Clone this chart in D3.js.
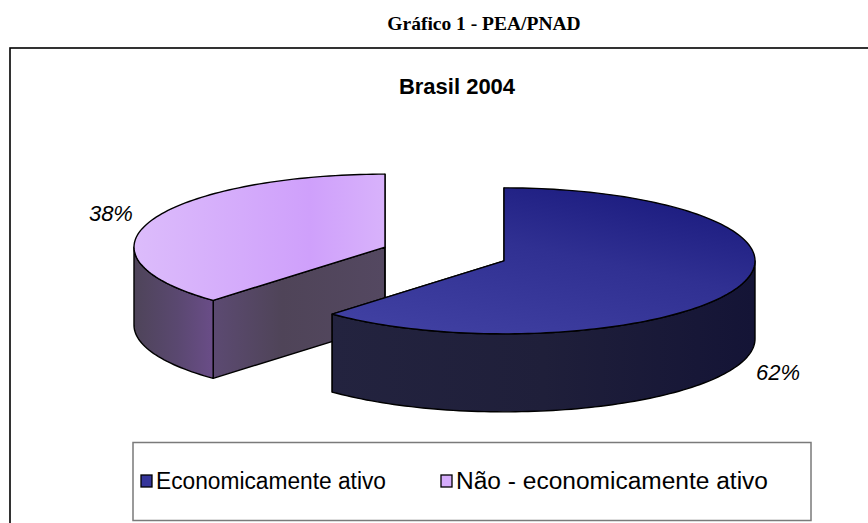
<!DOCTYPE html>
<html>
<head>
<meta charset="utf-8">
<script src="https://cdn.jsdelivr.net/npm/d3@7"></script>
<style>
  body { margin: 0; background: #fff; }
</style>
</head>
<body>
<script>
const w = 868;
const h = 523;

// data
const categories = ["Economicamente ativo", "Não - economicamente ativo"];
const values = [62, 38];
const pctLabels = ["62%", "38%"];

// looks
const topFill = ["url(#blueTop)", "url(#lilacTop)"];
const wallFill = ["url(#blueSide)", "url(#lilacWall)"];
const cutFill = ["#1f1f3a", "url(#lilacCut)"];
const legendFill = ["#35359a", "#d5acfb"];

const svg = d3
  .select("body")
  .append("svg")
  .attr("width", w)
  .attr("height", h)
  .style("font-family", "'Liberation Sans', Arial, sans-serif");

// gradients for the 3d look
const defs = svg.append("defs");
function gradient(id, x1, y1, x2, y2, stops) {
  const g = defs
    .append("linearGradient")
    .attr("id", id)
    .attr("x1", x1)
    .attr("y1", y1)
    .attr("x2", x2)
    .attr("y2", y2);
  stops.forEach(function (s) {
    g.append("stop").attr("offset", s[0]).attr("stop-color", s[1]);
  });
}
gradient("blueTop", "80%", "0%", "20%", "100%", [["0%", "#1a1a7e"], ["45%", "#303092"], ["100%", "#4040a2"]]);
gradient("blueSide", "0%", "0%", "100%", "0%", [["0%", "#23233f"], ["50%", "#1f1f3a"], ["100%", "#141436"]]);
gradient("lilacTop", "0%", "0%", "100%", "0%", [["0%", "#dcbcfb"], ["70%", "#cfa0fb"], ["100%", "#d8b2fb"]]);
gradient("lilacWall", "0%", "0%", "100%", "0%", [["0%", "#4e4459"], ["55%", "#5a4870"], ["100%", "#6a4d88"]]);
gradient("lilacCut", "0%", "0%", "100%", "0%", [["0%", "#5c4a72"], ["40%", "#4f4458"], ["100%", "#544861"]]);

// page title
svg
  .append("text")
  .attr("x", 484)
  .attr("y", 30)
  .attr("text-anchor", "middle")
  .style("font-family", "'Liberation Serif', 'Times New Roman', serif")
  .style("font-weight", "bold")
  .style("font-size", "19.5px")
  .text("Gráfico 1 - PEA/PNAD");

// chart frame (runs off the right and bottom of the page)
svg
  .append("rect")
  .attr("x", 10)
  .attr("y", 48)
  .attr("width", 900)
  .attr("height", 520)
  .attr("fill", "none")
  .attr("stroke", "#000")
  .attr("stroke-width", 1.6);

svg
  .append("text")
  .attr("x", 457)
  .attr("y", 94)
  .attr("text-anchor", "middle")
  .style("font-weight", "bold")
  .style("font-size", "22px")
  .text("Brasil 2004");

// 3d pie
const cx = 444.5,
  cy = 254,
  rx = 251,
  ry = 73,
  depth = 78,
  explode = 0.255;

const xs = d3.scaleLinear().domain([-1, 1]).range([cx - rx, cx + rx]);
const ys = d3.scaleLinear().domain([-1, 1]).range([cy - ry, cy + ry]);

const pie = d3.pie().sort(null).startAngle(0).endAngle(2 * Math.PI);
const slices = pie(values).map(function (d, i) {
  const mid = (d.startAngle + d.endAngle) / 2;
  d.i = i;
  d.mid = mid;
  d.ox = explode * Math.sin(mid);
  d.oy = -explode * Math.cos(mid);
  return d;
});

function pt(d, a, r, z) {
  return [xs(r * Math.sin(a) + d.ox), ys(-r * Math.cos(a) + d.oy) + z];
}
function arcPts(d, a0, a1, z) {
  const n = Math.max(2, Math.ceil((a1 - a0) * 40));
  return d3.range(n + 1).map(function (k) {
    return pt(d, a0 + ((a1 - a0) * k) / n, 1, z);
  });
}

const line = d3.line().curve(d3.curveLinearClosed);
const pieG = svg.append("g");

// draw back slices first
slices
  .slice()
  .sort(function (a, b) {
    return Math.cos(b.mid) - Math.cos(a.mid);
  })
  .forEach(function (d) {
    const g = pieG.append("g");
    const faceStyle = function (sel, fill) {
      sel.attr("fill", fill).attr("stroke", "#000").attr("stroke-width", 1.4).attr("stroke-linejoin", "round");
    };
    // radial faces
    [d.startAngle, d.endAngle].forEach(function (a) {
      const c0 = pt(d, 0, 0, 0);
      const e0 = pt(d, a, 1, 0);
      g.append("path")
        .attr("d", line([c0, e0, [e0[0], e0[1] + depth], [c0[0], c0[1] + depth]]))
        .call(faceStyle, cutFill[d.i]);
    });
    // outer wall, front half only
    const a0 = Math.max(d.startAngle, Math.PI / 2);
    const a1 = Math.min(d.endAngle, (3 * Math.PI) / 2);
    if (a0 < a1) {
      const topArc = arcPts(d, a0, a1, 0);
      const botArc = arcPts(d, a0, a1, depth).reverse();
      g.append("path").attr("d", line(topArc.concat(botArc))).call(faceStyle, wallFill[d.i]);
    }
    // top face
    const topPts = [pt(d, 0, 0, 0)].concat(arcPts(d, d.startAngle, d.endAngle, 0));
    g.append("path").attr("d", line(topPts)).call(faceStyle, topFill[d.i]);
  });

// percentage labels
slices.forEach(function (d) {
  const front = Math.cos(d.mid) < 0;
  const x = xs(1.08 * Math.sin(d.mid) + d.ox);
  const y = ys(-1.25 * Math.cos(d.mid) + d.oy) + (front ? depth : 0);
  svg
    .append("text")
    .attr("x", x)
    .attr("y", y)
    .attr("dy", "0.35em")
    .attr("text-anchor", Math.sin(d.mid) < 0 ? "end" : "start")
    .style("font-style", "italic")
    .style("font-size", "22px")
    .text(pctLabels[d.i]);
});

// legend
svg
  .append("rect")
  .attr("x", 133)
  .attr("y", 442.5)
  .attr("width", 678)
  .attr("height", 78)
  .attr("fill", "#fff")
  .attr("stroke", "#7a7a7a")
  .attr("stroke-width", 1.5);

const legendX = [141, 441];
const legendW = [230, 312];
const legend = svg
  .selectAll(".leg")
  .data(categories)
  .enter()
  .append("g")
  .attr("class", "leg")
  .attr("transform", function (d, i) {
    return "translate(" + legendX[i] + ",481)";
  });
legend
  .append("rect")
  .attr("x", 0)
  .attr("y", -6)
  .attr("width", 11)
  .attr("height", 12)
  .attr("fill", function (d, i) {
    return legendFill[i];
  })
  .attr("stroke", "#000")
  .attr("stroke-width", 1.3);
legend
  .append("text")
  .attr("x", 15)
  .attr("y", 0)
  .attr("dy", "0.35em")
  .attr("textLength", function (d, i) {
    return legendW[i];
  })
  .attr("lengthAdjust", "spacingAndGlyphs")
  .style("font-size", "23px")
  .text(function (d) {
    return d;
  });
</script>
</body>
</html>
